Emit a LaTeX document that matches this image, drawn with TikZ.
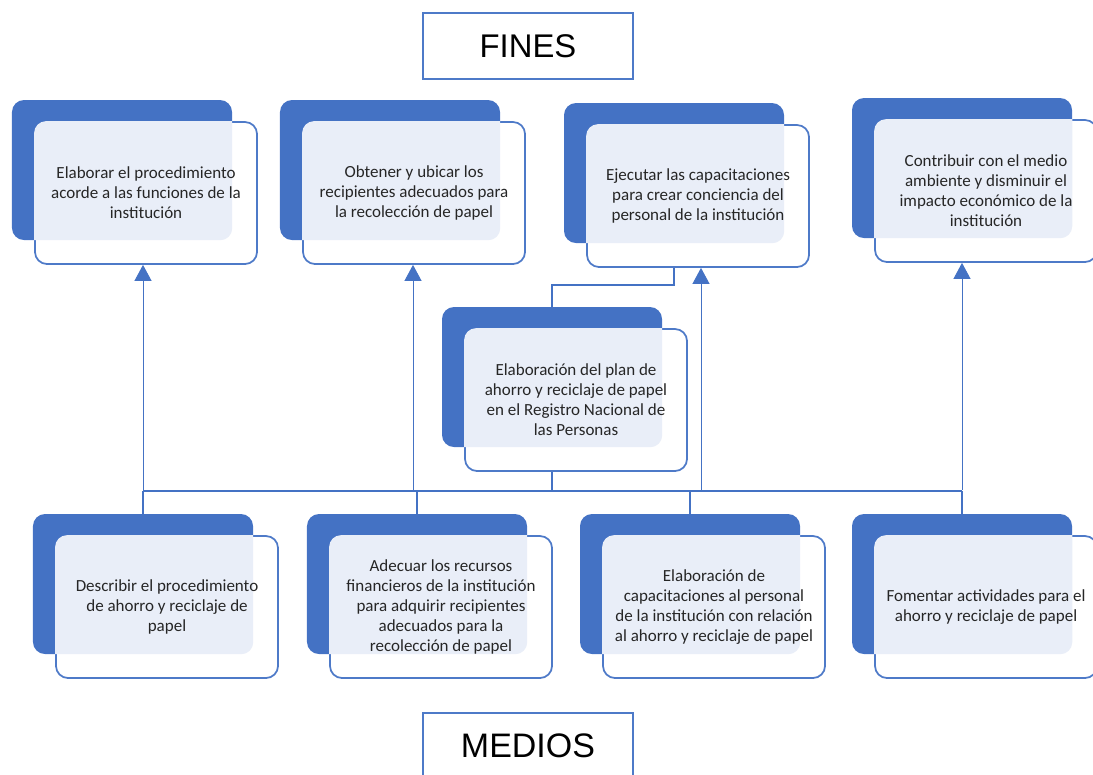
\documentclass[tikz,border=0pt]{standalone}
\usepackage{fontspec}
\setmainfont{Carlito}
\newfontfamily\headfont{Liberation Sans}
\usetikzlibrary{arrows.meta,positioning,backgrounds}
\definecolor{plblue}{RGB}{68,114,196}
\definecolor{plline}{RGB}{78,122,200}
\definecolor{plpanel}{RGB}{233,238,248}
\definecolor{plink}{RGB}{38,38,38}
\tikzset{
  backcard/.style={
    fill=plblue, rounded corners=0.36cm, inner sep=0pt,
    minimum width=6.6cm, minimum height=4.2cm
  },
  frontcard/.style={
    draw=plline, fill=white, line width=1.5pt, rounded corners=0.36cm,
    inner sep=0pt, minimum width=6.66cm, minimum height=4.26cm
  },
  cardtext/.style={
    font=\fontsize{14.5}{17}\selectfont, text=plink, align=center
  },
  titlebox/.style={
    draw=plline, line width=1.3pt, inner sep=0pt,
    minimum width=6.3cm, minimum height=1.98cm
  },
  tree/.style={draw=plblue, line width=1.7pt},
  arr/.style={-{Triangle[length=0.48cm,width=0.51cm]}, draw=plblue, line width=0.8pt}
}
% card: name, left, top of the back panel (px), text
\newcommand{\plancard}[4]{%
  \node[backcard] (#1-bk) at (#2+110,#3+70) {};
  \node[frontcard] (#1) at (#2+134,#3+93) {};
  \begin{scope}
    \clip[rounded corners=0.36cm] (#1.south west) rectangle (#1.north east);
    \fill[plpanel, rounded corners=0.36cm] (#1-bk.south west) rectangle (#1-bk.north east);
  \end{scope}
  \node[cardtext] (#1-txt) at (#1) {#4};
}

\begin{document}
\begin{tikzpicture}[x=0.03cm,y=-0.03cm]
  \useasboundingbox (0,0) rectangle (1093,774);
  % titles
  \node[titlebox, font=\headfont\fontsize{28}{30}\selectfont] (fines) at (528,46) {FINES};
  \node[titlebox, font=\headfont\fontsize{29}{30}\selectfont] (medios) at (528,746) {MEDIOS};
  % fines
  \plancard{t1}{12}{100}{Elaborar el procedimiento\\acorde a las funciones de la\\institución}
  \plancard{t2}{280}{100}{Obtener y ubicar los\\recipientes adecuados para\\la recolección de papel}
  \plancard{t3}{564}{103}{Ejecutar las capacitaciones\\para crear conciencia del\\personal de la institución}
  \plancard{t4}{852}{98}{Contribuir con el medio\\ambiente y disminuir el\\impacto económico de la\\institución}
  % problem
  \plancard{m}{442}{307}{Elaboración del plan de\\ahorro y reciclaje de papel\\en el Registro Nacional de\\las Personas}
  % medios
  \plancard{b1}{33}{514}{Describir el procedimiento\\de ahorro y reciclaje de\\papel}
  \plancard{b2}{307}{514}{Adecuar los recursos\\financieros de la institución\\para adquirir recipientes\\adecuados para la\\recolección de papel}
  \plancard{b3}{580}{514}{Elaboración de\\capacitaciones al personal\\de la institución con relación\\al ahorro y reciclaje de papel}
  \plancard{b4}{852}{514}{Fomentar actividades para el\\ahorro y reciclaje de papel}
  % connectors
  \begin{scope}[on background layer]
    \coordinate (bus) at (553,491);
    \draw[tree] (m-bk.south) -- (m-bk.south |- bus);
    \draw[tree] (b1-bk.north |- bus) -- (b4-bk.north |- bus);
    \foreach \c in {b1,b2,b3,b4}
      \draw[tree] (\c-bk.north |- bus) -- (\c-bk.north);
    \draw[tree] (m-bk.north) -- ++(0,-22) -| (t3-bk.south);
    \foreach \i/\x in {t1/143,t2/413,t3/701,t4/962} {
      \coordinate (\i-up) at (\x,490);
      \draw[arr] (\i-up) -- (\i-up |- \i.south);
    }
  \end{scope}
\end{tikzpicture}
\end{document}
